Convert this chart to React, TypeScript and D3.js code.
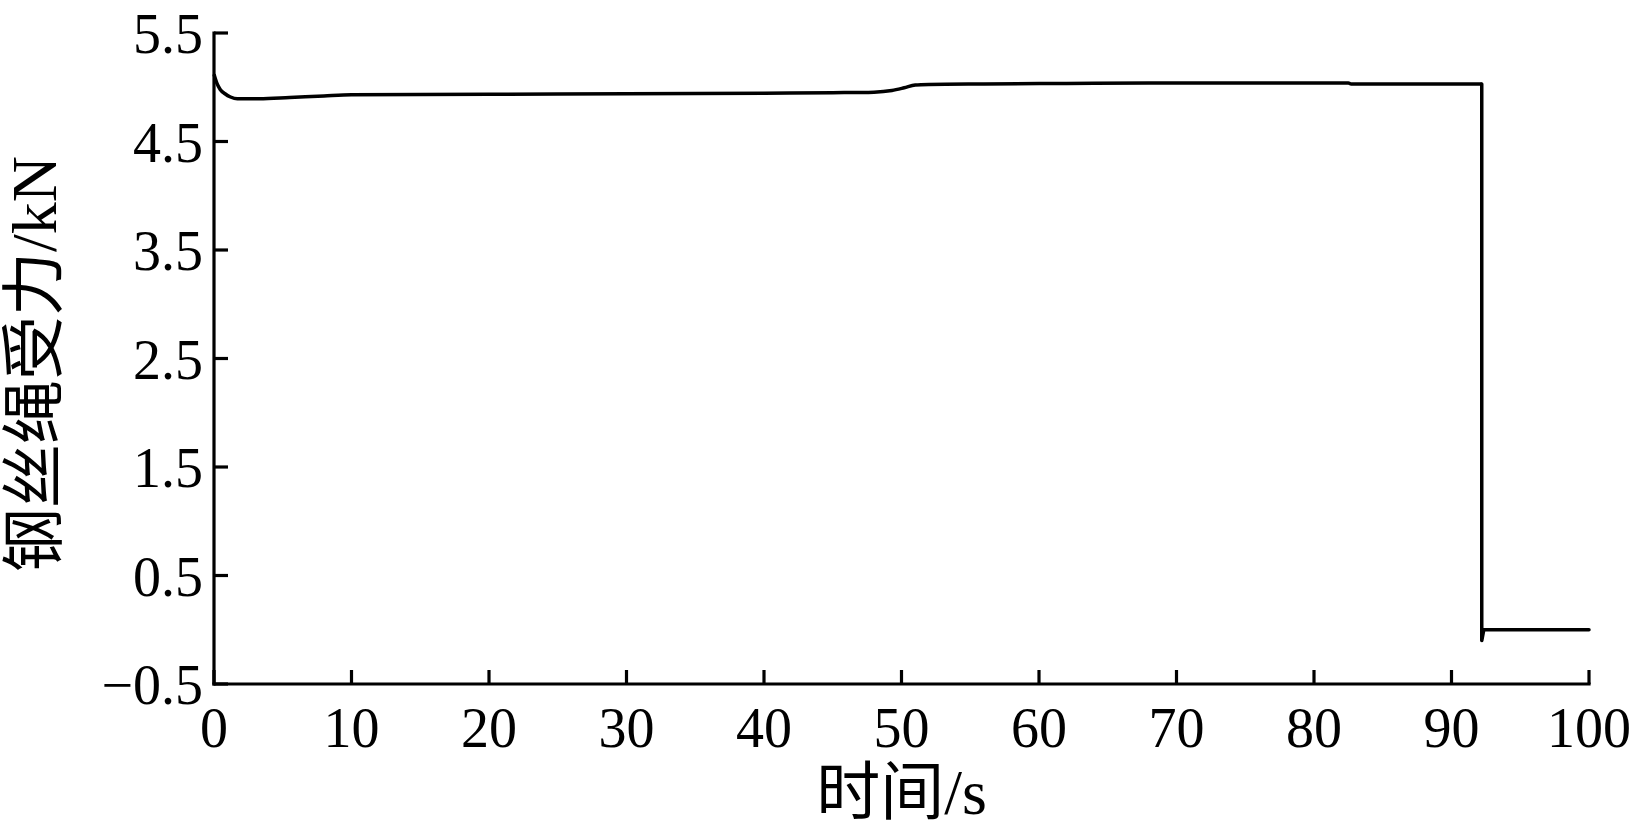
import React from "react";
import * as d3 from "d3";

const timeS = [0, 0.2, 0.45, 0.8, 1.2, 1.7, 3.3, 5.5, 8, 10, 20, 30, 40, 45, 48, 49.3, 50.2, 51, 52, 56, 62, 68, 75, 82.5, 82.7, 88, 92.2, 92.2, 92.35, 95, 100];
const forceKN = [5.12, 5.04, 4.98, 4.94, 4.91, 4.893, 4.893, 4.905, 4.92, 4.93, 4.935, 4.94, 4.945, 4.95, 4.955, 4.97, 4.995, 5.02, 5.025, 5.03, 5.035, 5.04, 5.04, 5.04, 5.03, 5.03, 5.03, -0.1, 0.0, 0.0, 0.0];
const xTicks = [0, 10, 20, 30, 40, 50, 60, 70, 80, 90, 100];
const yTicks = [-0.5, 0.5, 1.5, 2.5, 3.5, 4.5, 5.5];
const xTitle = "时间/s";
const yTitle = "钢丝绳受力/kN";

const W = 1634;
const H = 833;
const M = { left: 214, right: 1589, top: 33, bottom: 684 };
const FONT = "'Liberation Serif', 'Times New Roman', 'Noto Sans CJK SC', serif";

export default function App() {
  const x = d3.scaleLinear().domain([0, 100]).range([M.left, M.right]);
  const y = d3.scaleLinear().domain([-0.5, 5.5]).range([M.bottom, M.top]);
  const pts = timeS.map((t, i) => [t, forceKN[i]] as [number, number]);
  const line = d3.line<[number, number]>().x(d => x(d[0])).y(d => y(d[1])).curve(d3.curveMonotoneX);
  const dropIdx = 26;
  const pre = pts.slice(0, dropIdx + 1);
  const post = pts.slice(dropIdx);
  const linear = d3.line<[number, number]>().x(d => x(d[0])).y(d => y(d[1]));
  const tickLen = 14;
  return (
    <svg width={W} height={H} style={{ position: "absolute", left: 0, top: 0, background: "#fff" }} fontFamily={FONT}>
      <rect x={0} y={0} width={W} height={H} fill="#fff" />
      <path d={line(pre) || ""} fill="none" stroke="#000" strokeWidth={3.5} strokeLinejoin="round" />
      <path d={linear(post) || ""} fill="none" stroke="#000" strokeWidth={3.5} strokeLinejoin="round" strokeLinecap="round" />
      <line x1={x(0)} x2={x(100)} y1={y(-0.5)} y2={y(-0.5)} stroke="#000" strokeWidth={3.2} strokeLinecap="square" />
      <line x1={x(0)} x2={x(0)} y1={y(-0.5)} y2={y(5.5)} stroke="#000" strokeWidth={3.2} strokeLinecap="square" />
      {xTicks.map(t => (
        <g key={"x" + t}>
          <line x1={x(t)} x2={x(t)} y1={y(-0.5)} y2={y(-0.5) - tickLen} stroke="#000" strokeWidth={3.2} />
          <text x={x(t)} y={747} textAnchor="middle" fontSize={56} fill="#000">{t}</text>
        </g>
      ))}
      {yTicks.map(v => (
        <g key={"y" + v}>
          <line x1={x(0)} x2={x(0) + tickLen} y1={y(v)} y2={y(v)} stroke="#000" strokeWidth={3.2} />
          <text x={203} y={y(v)} dy="0.36em" textAnchor="end" fontSize={56} fill="#000">{v < 0 ? "\u2212" + Math.abs(v) : v}</text>
        </g>
      ))}
      <text x={(M.left + M.right) / 2} y={814} textAnchor="middle" fontSize={64} fill="#000">{xTitle}</text>
      <text transform={`translate(56, ${364}) rotate(-90)`} textAnchor="middle" fontSize={64} fill="#000">{yTitle}</text>
    </svg>
  );
}
